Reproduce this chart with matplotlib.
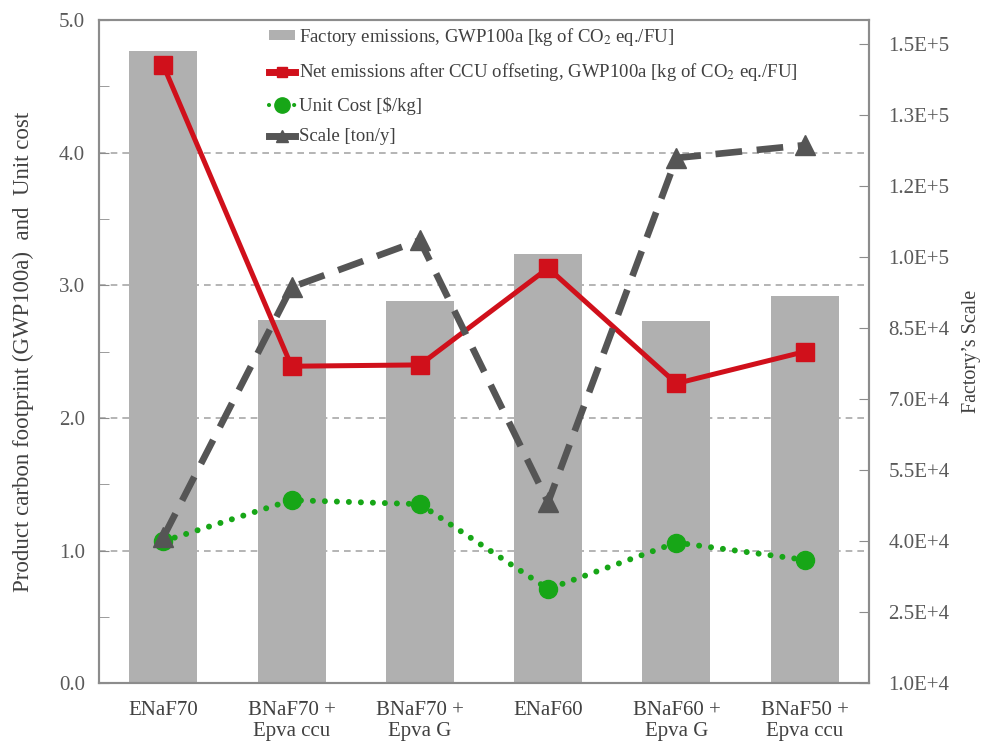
import matplotlib
matplotlib.use('Agg')
import matplotlib.pyplot as plt
from matplotlib.lines import Line2D
from matplotlib.patches import Patch
import numpy as np

# Data
categories = ['ENaF70', 'BNaF70 +\nEpva ccu', 'BNaF70 +\nEpva G', 'ENaF60', 'BNaF60 +\nEpva G', 'BNaF50 +\nEpva ccu']
factory_emissions = [4.77, 2.74, 2.88, 3.24, 2.73, 2.92]
net_emissions = [4.66, 2.39, 2.40, 3.13, 2.26, 2.50]
unit_cost = [1.07, 1.38, 1.35, 0.71, 1.06, 0.93]
scale_ton_y = [40800, 93600, 103500, 48200, 120900, 123600]

left_ticks = [0, 1, 2, 3, 4, 5]
left_labels = ['0.0', '1.0', '2.0', '3.0', '4.0', '5.0']
right_ticks = [10000, 25000, 40000, 55000, 70000, 85000, 100000, 115000, 130000, 145000]
right_labels = ['1.0E+4', '2.5E+4', '4.0E+4', '5.5E+4', '7.0E+4', '8.5E+4', '1.0E+5', '1.2E+5', '1.3E+5', '1.5E+5']

plt.rcParams['font.family'] = ['Liberation Serif', 'DejaVu Serif']
plt.rcParams['mathtext.fontset'] = 'stix'

text_col = '#595959'
spine_col = '#8c8c8c'
bar_col = '#b0b0b0'
red = '#d0101b'
green = '#17a617'
dark = '#555555'

fig = plt.figure(figsize=(10.01, 7.45), dpi=100)
ax = fig.add_axes([0.099, 0.083, 0.769, 0.890])
ax2 = ax.twinx()

x = np.arange(len(categories))

ax.bar(x, factory_emissions, width=0.53, color=bar_col, zorder=2)
ax.plot(x, net_emissions, color=red, lw=3.6, marker='s', ms=13, zorder=4)
ax.plot(x, unit_cost, color=green, lw=4.3, ls=(0, (0.01, 2.0)), dash_capstyle='round',
        marker='o', ms=13, zorder=4)
ax2.plot(x, scale_ton_y, color=dark, lw=4.8, ls=(0, (4, 2.2)), marker='^', ms=14, zorder=5)

ax.set_xlim(-0.5, len(categories) - 0.5)
ax.set_ylim(0, 5)
ax2.set_ylim(10000, 150000)

for yv in [1, 2, 3, 4]:
    ax.axhline(yv, color='#a8a8a8', lw=1.2, ls=(0, (4, 3)), zorder=1)

ax.set_yticks(left_ticks)
ax.set_yticklabels(left_labels)
ax.set_yticks(np.arange(0.5, 5, 1.0), minor=True)
ax.tick_params(axis='y', which='both', direction='in', length=7, color=spine_col,
               labelsize=15, labelcolor=text_col, pad=10)
ax.set_xticks(x)
ax.set_xticklabels(categories, linespacing=1.15)
ax.tick_params(axis='x', length=0, labelsize=15, labelcolor='#404040', pad=13)

ax2.set_yticks(right_ticks)
ax2.set_yticklabels(right_labels)
ax2.tick_params(axis='y', direction='in', length=7, color=spine_col,
                labelsize=15, labelcolor=text_col, pad=14)

for a in (ax, ax2):
    for s in a.spines.values():
        s.set_color(spine_col)
        s.set_linewidth(1.5)

ax.set_ylabel('Product carbon footprint (GWP100a)  and  Unit cost', fontsize=16.5, color='#404040', labelpad=18)
ax2.set_ylabel('Factory\u2019s Scale', fontsize=14.5, color='#404040', labelpad=9)

handles = [
    Patch(facecolor=bar_col, edgecolor='none'),
    Line2D([], [], color=red, lw=5, marker='s', ms=7),
    Line2D([], [], color=green, lw=3, ls=(0, (0.01, 2.0)), dash_capstyle='round', marker='o', ms=11),
    Line2D([], [], color=dark, lw=5, marker='^', ms=9),
]
labels = [
    'Factory emissions, GWP100a [kg of CO$_2$ eq./FU]',
    'Net emissions after CCU offseting, GWP100a [kg of CO$_2$ eq./FU]',
    'Unit Cost [\\$/kg]',
    'Scale [ton/y]',
]
leg = ax2.legend(handles, labels, loc='upper left', bbox_to_anchor=(0.201, 1.014),
                 frameon=False, fontsize=13.5, handlelength=1.4, handleheight=0.4,
                 handletextpad=0.2, labelspacing=0.72, borderpad=0.3)
for t in leg.get_texts():
    t.set_color('#404040')

fig.savefig('out.png', dpi=100)
